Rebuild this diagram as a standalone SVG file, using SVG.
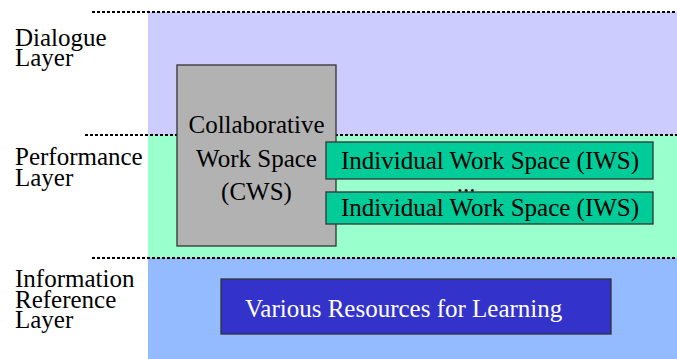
<svg xmlns="http://www.w3.org/2000/svg" width="677" height="359" viewBox="0 0 677 359">
<style>
text{font-family:'Liberation Serif','Times New Roman',Times,serif;font-size:25px;fill:#000}
.c{text-anchor:middle}
.dot{stroke:#000;stroke-width:2;stroke-dasharray:3 2;fill:none}
.box{stroke:#333;stroke-width:1.3}
</style>
<rect x="148" y="12" width="529" height="123" fill="#CCCCFF"/>
<rect x="148" y="135" width="529" height="123" fill="#99FFCC"/>
<rect x="148" y="258" width="529" height="101" fill="#94BBFF"/>
<g id="connectors">
<line class="dot" x1="92" y1="12" x2="677" y2="12"/>
<line class="dot" x1="85" y1="135" x2="677" y2="135"/>
<line class="dot" x1="92" y1="258" x2="677" y2="258"/>
</g>
<g id="labels" font-family="Liberation Serif, serif">
<text x="15" y="46">Dialogue</text>
<text x="15" y="66">Layer</text>
<text x="15" y="165">Performance</text>
<text x="15" y="186">Layer</text>
<text x="15" y="287">Information</text>
<text x="15" y="308">Reference</text>
<text x="15" y="328">Layer</text>
</g>
<g id="cws">
<rect class="box" x="177" y="65" width="159" height="181" fill="#B2B2B2"/>
<text class="c" x="256.5" y="133">Collaborative</text>
<text class="c" x="256.5" y="167">Work Space</text>
<text class="c" x="256.5" y="200">(CWS)</text>
</g>
<g id="iws1">
<rect class="box" x="326" y="142" width="327" height="37" fill="#00CC99"/>
<text class="c" x="490" y="169">Individual Work Space (IWS)</text>
</g>
<g id="ellipsis">
<text class="c" x="466" y="192">...</text>
</g>
<g id="iws2">
<rect class="box" x="326" y="192" width="327" height="32" fill="#00CC99"/>
<text class="c" x="490" y="216">Individual Work Space (IWS)</text>
</g>
<g id="resources">
<rect class="box" x="221" y="279" width="390" height="55" fill="#3333CC"/>
<text x="245" y="317" style="fill:#fff">Various Resources for Learning</text>
</g>
</svg>
